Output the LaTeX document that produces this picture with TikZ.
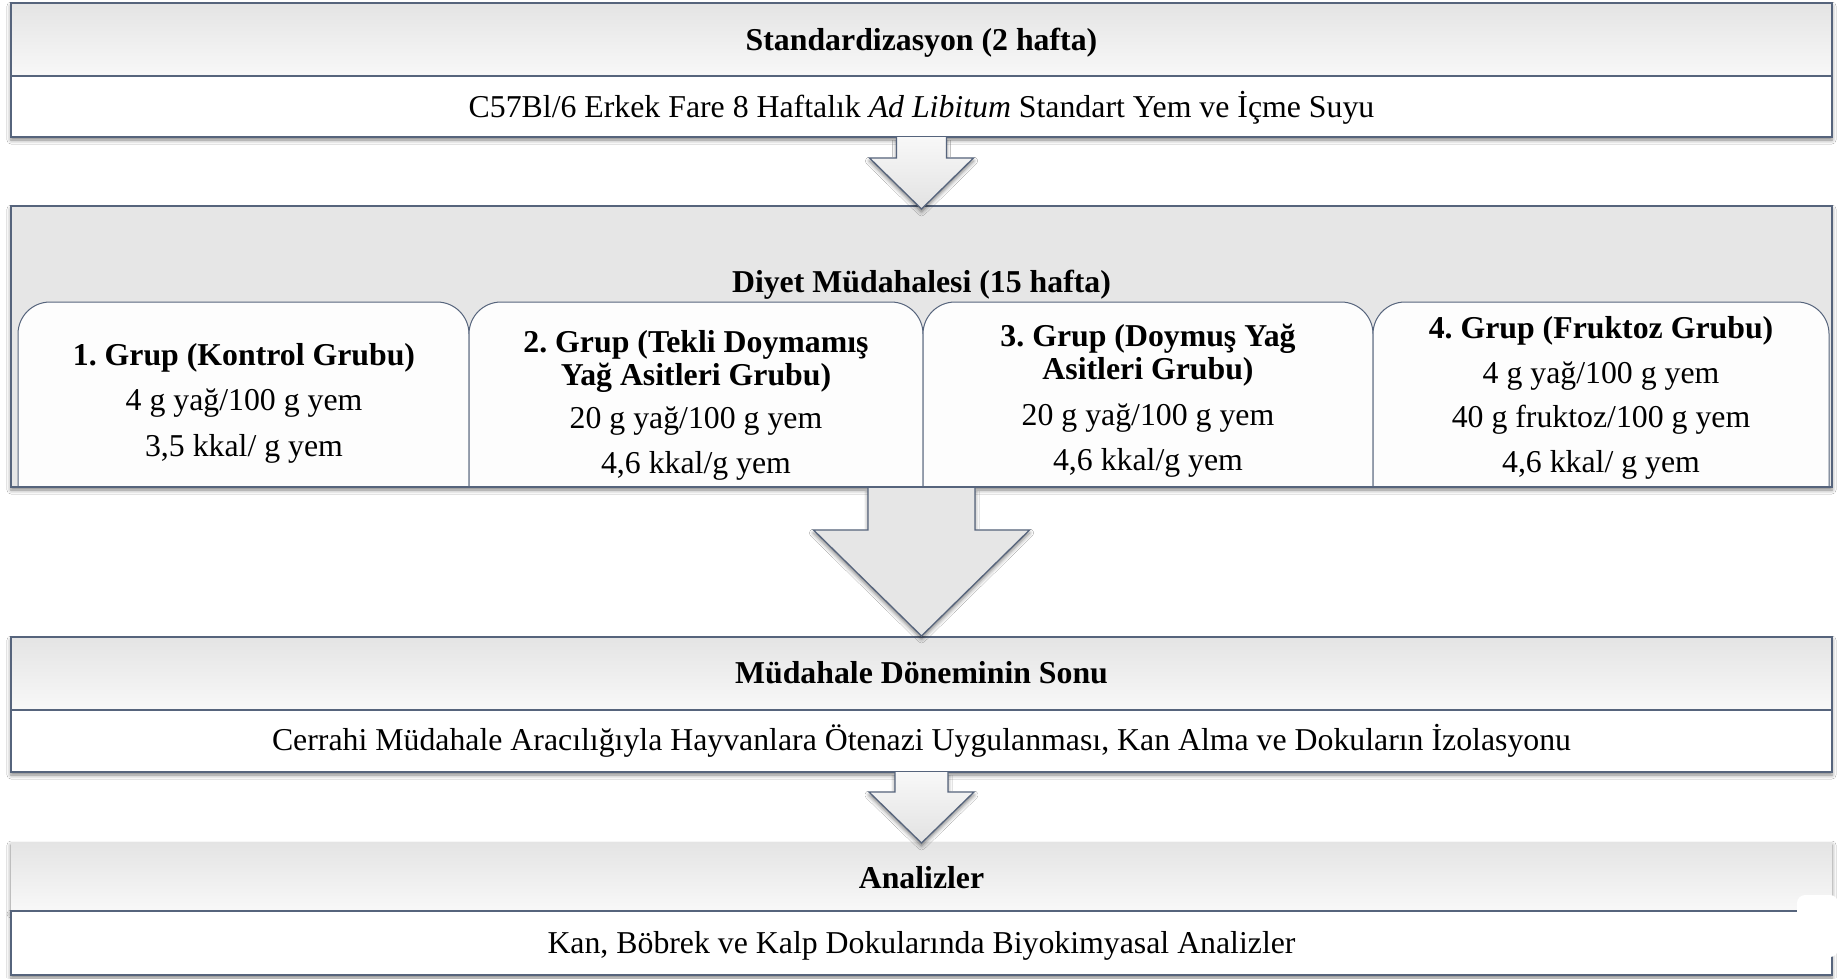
\documentclass[tikz,border=0pt]{standalone}
\usepackage{fontspec}
\setmainfont{Liberation Serif}
\usetikzlibrary{shadows.blur,calc}
\frenchspacing
\definecolor{edge}{RGB}{86,100,124}
\definecolor{hdtop}{RGB}{228,228,228}
\definecolor{hdbot}{RGB}{248,248,248}
\definecolor{dgray}{RGB}{230,230,230}
\definecolor{tabfill}{RGB}{253,253,253}
\definecolor{artop}{RGB}{248,248,248}
\definecolor{arbot}{RGB}{226,226,226}
\begin{document}
\begin{tikzpicture}[x=1pt,y=-1pt,
  txt/.style={inner sep=0pt, anchor=base, font=\fontsize{31.8}{36}\selectfont\frenchspacing},
  btxt/.style={inner sep=0pt, anchor=base, font=\fontsize{31.8}{36}\selectfont\bfseries\frenchspacing},
  boxn/.style={rectangle, inner sep=0pt, outer sep=0pt, anchor=north west, minimum width=1821pt},
  hdr/.style={boxn, draw=edge, line width=1.2pt, top color=hdtop, bottom color=hdbot},
  hdrfree/.style={boxn, top color=hdtop, bottom color=hdbot},
  bodybox/.style={boxn, draw=edge, line width=1.2pt, fill=white},
  shad/.style={blur shadow={shadow xshift=0pt, shadow yshift=-3pt, shadow blur radius=4pt, shadow opacity=50}},
  tabstyle/.style={draw=edge, line width=1pt, fill=tabfill, rounded corners=32pt},
  arr/.style={draw=edge, line width=1.3pt, top color=artop, bottom color=arbot, shad},
  arrflat/.style={draw=edge, line width=1.3pt, fill=dgray, shad}
]
\useasboundingbox (0,0) rectangle (1838,978);
\fill[white] (0,0) rectangle (1838,978);

% ---- Standardizasyon
\path[shad, fill=white] (11,3) rectangle (1832,137);
\node[hdr, minimum height=73pt] (stdH) at (11,3) {};
\node[bodybox, minimum height=61pt] (stdB) at (11,76) {};
\node[btxt] (stdT) at (921.5,50) {Standardizasyon (2 hafta)};
\node[txt] (stdX) at (921.5,117) {C57Bl/6 Erkek Fare 8 Haftalık \textit{Ad Libitum} Standart Yem ve İçme Suyu};

% ---- Diyet
\node[boxn, fill=dgray, minimum height=281pt, shad] (diyet) at (11,206) {};
\node[btxt] (diyT) at (921.5,292) {Diyet Müdahalesi (15 hafta)};

\path[tabstyle] (18,486) -- (18,302) -- (469,302) -- (469,486);
\path[tabstyle] (469,486) -- (469,302) -- (923,302) -- (923,486);
\path[tabstyle] (923,486) -- (923,302) -- (1373,302) -- (1373,486);
\path[tabstyle] (1373,486) -- (1373,302) -- (1829,302) -- (1829,486);
\draw[edge, line width=1.2pt] (diyet.north west) rectangle (diyet.south east);

\node[btxt] (g1t) at (244,365) {1. Grup (Kontrol Grubu)};
\node[txt]  (g1a) at (244,410) {4 g yağ/100 g yem};
\node[txt]  (g1b) at (244,456) {3,5 kkal/ g yem};

\node[btxt] (g2t) at (696,352) {2. Grup (Tekli Doymamış};
\node[btxt] (g2u) at (696,385) {Yağ Asitleri Grubu)};
\node[txt]  (g2a) at (696,428) {20 g yağ/100 g yem};
\node[txt]  (g2b) at (696,473) {4,6 kkal/g yem};

\node[btxt] (g3t) at (1148,346) {3. Grup (Doymuş Yağ};
\node[btxt] (g3u) at (1148,379) {Asitleri Grubu)};
\node[txt]  (g3a) at (1148,425) {20 g yağ/100 g yem};
\node[txt]  (g3b) at (1148,470) {4,6 kkal/g yem};

\node[btxt] (g4t) at (1601,338) {4. Grup (Fruktoz Grubu)};
\node[txt]  (g4a) at (1601,383) {4 g yağ/100 g yem};
\node[txt]  (g4b) at (1601,427) {40 g fruktoz/100 g yem};
\node[txt]  (g4c) at (1601,472) {4,6 kkal/ g yem};

% ---- Müdahale Döneminin Sonu
\path[shad, fill=white] (11,637) rectangle (1832,772);
\node[hdr, minimum height=73pt] (endH) at (11,637) {};
\node[bodybox, minimum height=62pt] (endB) at (11,710) {};
\node[btxt] (endT) at (921.5,683) {Müdahale Döneminin Sonu};
\node[txt] (endX) at (921.5,750) {Cerrahi Müdahale Aracılığıyla Hayvanlara Ötenazi Uygulanması, Kan Alma ve Dokuların İzolasyonu};

% ---- Analizler
\node[hdrfree, minimum height=69pt, shad] (anH) at (11,842) {};
\node[bodybox, minimum height=64pt, shad] (anB) at (11,911) {};
\node[btxt] (anT) at (921.5,888) {Analizler};
\node[txt] (anX) at (921.5,953) {Kan, Böbrek ve Kalp Dokularında Biyokimyasal Analizler};
\fill[white, rounded corners=8pt] (1797,895) rectangle (1838,957);

% ---- block arrows
\path[arr] ($(stdB.south)+(-25,0)$) -- ++(0,21) -- ++(-27,0) -- ($(diyet.north)+(0,3)$)
  -- ($(stdB.south)+(52,21)$) -- ++(-27,0) -- ++(0,-21);
\path[arrflat] ($(diyet.south)+(-53.5,1)$) -- ++(0,42) -- ++(-54.5,0) -- ($(endH.north)+(0,-1)$)
  -- ($(diyet.south)+(108,43)$) -- ++(-54.5,0) -- ++(0,-42);
\path[arr] ($(endB.south)+(-26.5,0)$) -- ++(0,20) -- ++(-26,0) -- ($(anH.north)+(0,1)$)
  -- ($(endB.south)+(52.5,20)$) -- ++(-26,0) -- ++(0,-20);
\end{tikzpicture}
\end{document}
